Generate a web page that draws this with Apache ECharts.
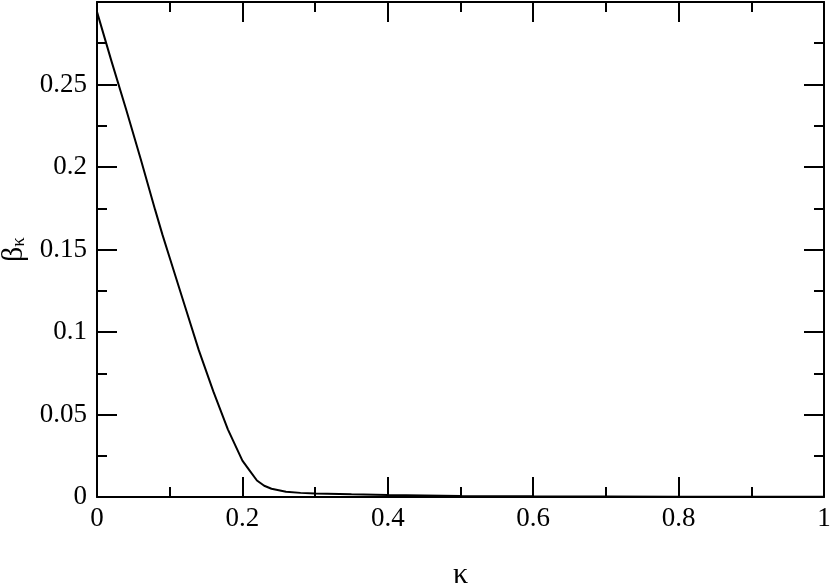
<!DOCTYPE html>
<html>
<head>
<meta charset="utf-8">
<script src="https://cdn.jsdelivr.net/npm/echarts@6/dist/echarts.min.js"></script>
<style>html,body{margin:0;padding:0;background:#fff}#c{width:830px;height:586px}</style>
</head>
<body>
<div id="c"></div>
<script>
var kappa = [0, 0.02, 0.04, 0.06, 0.08, 0.09, 0.1, 0.12, 0.14, 0.16, 0.18, 0.2, 0.21, 0.22, 0.23, 0.24, 0.26, 0.28, 0.3, 0.35, 0.4, 0.45, 0.5, 0.6, 0.7, 0.8, 0.9, 1.0];
var beta = [0.294, 0.264, 0.235, 0.205, 0.174, 0.159, 0.145, 0.117, 0.089, 0.064, 0.041, 0.022, 0.016, 0.010, 0.0068, 0.0050, 0.0032, 0.0025, 0.0021, 0.0016, 0.0012, 0.0009, 0.0006, 0.0004, 0.0003, 0.0002, 0.0001, 0.0001];
var xTickLabels = ['0', '0.2', '0.4', '0.6', '0.8', '1'];
var yTickLabels = ['0', '0.05', '0.1', '0.15', '0.2', '0.25'];

var font = 'Liberation Serif';
var fs = 27;
var chart = echarts.init(document.getElementById('c'), null, {renderer: 'canvas'});
var lineStyle = {color: '#000', width: 2};
function xAxis(pos, show) {
  return {
    type: 'value', position: pos, min: 0, max: 1, interval: 0.2,
    axisLine: {show: true, onZero: false, lineStyle: lineStyle},
    axisTick: {show: true, inside: true, length: 20, lineStyle: lineStyle},
    minorTick: {show: true, splitNumber: 2, length: 10, lineStyle: lineStyle},
    splitLine: {show: false}, minorSplitLine: {show: false},
    axisLabel: {show: show, margin: 8, color: '#000', fontFamily: font, fontSize: fs,
      formatter: function (v) { return xTickLabels[Math.round(v / 0.2)]; }},
    name: show ? 'κ' : '', nameLocation: 'middle', nameGap: 63,
    nameTextStyle: {color: '#000', fontFamily: font, fontSize: 30}
  };
}
function yAxis(pos, show) {
  return {
    type: 'value', position: pos, min: 0, max: 0.3, interval: 0.05,
    axisLine: {show: true, onZero: false, lineStyle: lineStyle},
    axisTick: {show: true, inside: true, length: 20, lineStyle: lineStyle},
    minorTick: {show: true, splitNumber: 2, length: 10, lineStyle: lineStyle},
    splitLine: {show: false}, minorSplitLine: {show: false},
    axisLabel: {show: show, margin: 10, color: '#000', fontFamily: font, fontSize: fs,
      showMaxLabel: false,
      formatter: function (v) { var i = Math.round(v / 0.05); return yTickLabels[i] || ''; }},
    name: show ? '{a|β}{b|κ}' : '', nameLocation: 'middle', nameGap: 66, nameRotate: 90,
    nameTextStyle: {color: '#000', fontFamily: font, fontSize: 30,
      rich: {
        a: {fontFamily: font, fontSize: 30, color: '#000', lineHeight: 34, verticalAlign: 'bottom'},
        b: {fontFamily: font, fontSize: 19, color: '#000', lineHeight: 34, verticalAlign: 'bottom', padding: [12, 0, 0, 0]}
      }}
  };
}
chart.setOption({
  animation: false,
  backgroundColor: '#fff',
  grid: {left: 97, right: 6, top: 2, bottom: 89, containLabel: false, outerBoundsMode: 'none'},
  xAxis: [xAxis('bottom', true), xAxis('top', false)],
  yAxis: [yAxis('left', true), yAxis('right', false)],
  series: [{
    type: 'line', xAxisIndex: 0, yAxisIndex: 0,
    data: kappa.map(function (k, i) { return [k, beta[i]]; }),
    showSymbol: false, smooth: false,
    lineStyle: {color: '#000', width: 2}
  }]
});
</script>
</body>
</html>
